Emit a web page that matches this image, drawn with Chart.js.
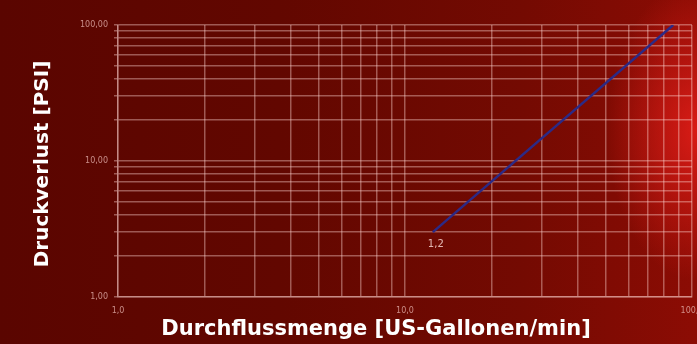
<!DOCTYPE html>
<html>
<head>
<meta charset="utf-8">
<script src="https://cdn.jsdelivr.net/npm/chart.js@4.4.1/dist/chart.umd.min.js"></script>
<style>
  html, body { margin: 0; padding: 0; }
  body {
    width: 697px; height: 344px; overflow: hidden;
    background:
      radial-gradient(ellipse 90px 150px at 100% 38%, rgba(230,30,25,0.85), rgba(230,30,25,0) 100%),
      linear-gradient(90deg, #5a0500 0%, #620700 40%, #740a02 75%, #8c0c04 100%);
  }
  #wrap { position: relative; width: 697px; height: 344px; }
</style>
</head>
<body>
<div id="wrap"><canvas id="chart" width="697" height="344"></canvas></div>
<script>
// Daten
const flowValues = [12.5, 86];      // US-Gallonen/min
const pressureValues = [3.0, 100];  // PSI
const pointLabels = ['1,2', ''];
const xTickLabels = { 1: '1,0', 10: '10,0', 100: '100,0' };
const yTickLabels = { 1: '1,00', 10: '10,00', 100: '100,00' };
const mantissas = [1, 2, 3, 4, 5, 6, 7, 8, 9];

const xTitle = 'Durchflussmenge [US-Gallonen/min]';
const yTitle = 'Druckverlust [PSI]';

const gridColor = 'rgba(255,215,210,0.4)';
const tickColor = 'rgba(235,185,180,0.75)';

// Ticks nur bei 1..9 pro Dekade
function logTicks(scale) {
    const ticks = [];
    for (let d = 1; d < 100; d *= 10) {
        mantissas.forEach(m => ticks.push({ value: m * d }));
    }
    ticks.push({ value: 100 });
    scale.ticks = ticks;
}

// Achsentitel und Punktbeschriftung zeichnen
const titlesPlugin = {
    id: 'titles',
    afterDraw(chart) {
        const ctx = chart.ctx;
        ctx.save();
        ctx.fillStyle = '#ffffff';
        ctx.font = 'bold 21px "DejaVu Sans", sans-serif';
        ctx.textAlign = 'center';
        ctx.textBaseline = 'middle';
        ctx.fillText(xTitle, 376, 330);
        ctx.font = 'bold 20px "DejaVu Sans", sans-serif';
        ctx.translate(43, 164);
        ctx.rotate(-Math.PI / 2);
        ctx.fillText(yTitle, 0, 0);
        ctx.restore();

        const meta = chart.getDatasetMeta(0);
        ctx.save();
        ctx.fillStyle = 'rgba(255,225,220,0.8)';
        ctx.font = '10px "DejaVu Sans", sans-serif';
        ctx.textAlign = 'center';
        ctx.textBaseline = 'middle';
        meta.data.forEach((pt, i) => {
            if (pointLabels[i]) ctx.fillText(pointLabels[i], pt.x + 3, pt.y + 12);
        });
        ctx.restore();
    }
};

new Chart(document.getElementById('chart').getContext('2d'), {
    type: 'line',
    data: {
        datasets: [{
            data: flowValues.map((x, i) => ({ x: x, y: pressureValues[i] })),
            borderColor: '#2c2a86',
            borderWidth: 2.5,
            pointRadius: 0,
            fill: false,
            tension: 0
        }]
    },
    options: {
        responsive: false,
        animation: false,
        layout: { padding: { top: 25, right: 5, left: 0, bottom: 0 } },
        plugins: { legend: { display: false }, tooltip: { enabled: false } },
        scales: {
            x: {
                type: 'logarithmic',
                min: 1,
                max: 100,
                afterBuildTicks: logTicks,
                afterFit: (s) => { s.height = 47; s.paddingLeft = 0; s.paddingRight = 0; },
                grid: { color: gridColor, lineWidth: 1.5, tickLength: 4, drawTicks: false },
                border: { color: gridColor, width: 1.5 },
                ticks: {
                    autoSkip: false,
                    maxRotation: 0,
                    padding: 9,
                    color: tickColor,
                    font: { size: 8, family: '"DejaVu Sans", sans-serif' },
                    callback: (v) => xTickLabels[v] || ''
                }
            },
            y: {
                type: 'logarithmic',
                min: 1,
                max: 100,
                afterBuildTicks: logTicks,
                afterFit: (s) => { s.width = 118; s.paddingTop = 0; s.paddingBottom = 0; },
                grid: { color: gridColor, lineWidth: 1.5, tickLength: 4 },
                border: { color: gridColor, width: 1.5 },
                ticks: {
                    autoSkip: false,
                    padding: 6,
                    color: tickColor,
                    font: { size: 8, family: '"DejaVu Sans", sans-serif' },
                    callback: (v) => yTickLabels[v] || ''
                }
            }
        }
    },
    plugins: [titlesPlugin]
});
</script>
</body>
</html>
